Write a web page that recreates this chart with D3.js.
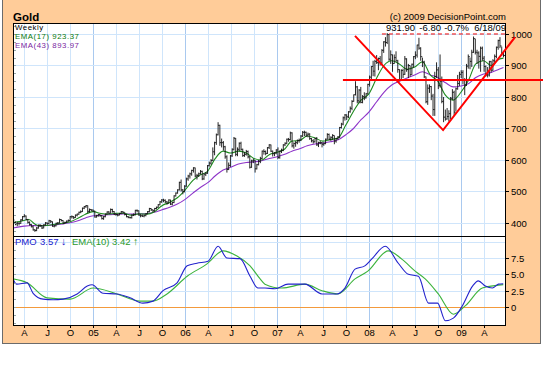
<!DOCTYPE html>
<html><head><meta charset="utf-8">
<script src="https://cdn.jsdelivr.net/npm/d3@7"></script>
<style>html,body{margin:0;padding:0;background:#fff}svg{display:block}text{font-family:"Liberation Sans",Arial,sans-serif}</style>
</head><body><svg id="c" width="543" height="384"></svg>
<script>
// ---------------- data ----------------
const firstWeek = "2004-02-20";   // weekly bars, one per Friday
const weekHigh = [
412,405,404,403,412,422,428,424,413,405,397,392,381,387,395,396,394,396,403,402,410,409,405,394,401,403,414,412,409,404,408,411,422,424,422,427,430,436,440,449,454,457,456,446,444,443,
439,426,429,428,426,422,430,437,438,446,445,438,431,429,432,438,437,434,429,422,420,427,430,442,443,440,428,427,427,431,438,448,447,443,448,452,460,470,476,477,475,470,475,474,468,488,497,507,531,538,508,520,
544,553,560,569,577,576,556,560,568,566,558,562,584,595,603,640,658,684,720,712,668,660,645,615,592,616,637,673,670,640,656,658,636,625,632,630,613,601,604,600,588,600,610,630,634,630,641,650,649,630,625,634,
640,630,636,650,656,668,670,690,688,656,660,665,668,679,692,693,690,687,685,670,666,671,673,658,660,657,656,668,685,684,675,682,678,670,676,705,718,738,746,745,755,770,790,808,850,835,825,832,806,815,813,842,
868,898,915,918,933,925,930,952,977,990,1003,1000,948,935,935,945,918,888,888,890,930,923,905,900,906,930,945,966,988,958,925,915,865,840,840,835,810,880,910,895,935,865,800,760,765,758,800,825,820,830,870,880,
885,885,860,905,935,925,950,992,985,950,945,960,960,930,900,895,915,915,920,935,960,982,990,960,945];
const weekLow = [
398,393,390,392,397,407,418,409,398,392,386,376,372,374,382,388,381,383,392,394,397,400,388,386,389,395,399,405,396,397,400,404,406,414,413,416,421,426,431,435,444,448,431,433,437,435,
417,417,420,420,411,410,418,426,428,430,433,425,423,421,424,428,429,424,418,415,414,414,422,424,434,423,418,419,418,421,428,434,438,434,436,443,448,456,464,466,463,458,461,457,456,463,484,493,503,500,491,497,
515,534,541,550,560,545,538,546,554,536,537,549,556,579,585,597,615,648,678,645,640,630,604,560,568,578,610,630,612,612,628,630,610,610,614,605,573,575,590,560,570,583,590,603,617,615,619,635,625,611,612,618,
603,604,622,628,644,650,658,662,640,636,642,650,655,660,673,676,673,672,664,656,652,655,645,641,650,640,645,650,664,662,660,664,650,655,664,670,700,710,725,727,733,750,758,785,805,780,780,780,780,790,795,808,
833,855,866,865,905,885,900,905,940,960,968,915,905,880,905,912,877,850,853,860,870,880,860,865,870,893,920,925,950,915,895,860,780,775,813,790,740,740,860,825,830,780,720,725,728,722,730,790,740,755,823,835,
860,840,806,835,890,888,895,940,935,905,890,880,915,880,865,862,865,878,883,910,923,950,955,930,926];
const weekClose = [
400,397,399,399,410,420,422,411,402,395,388,378,376,384,393,392,384,394,400,398,407,404,390,391,399,400,411,408,399,402,406,408,420,420,417,425,428,434,436,447,452,455,437,443,441,438,
419,423,427,423,414,420,428,435,431,443,436,428,427,425,430,436,434,427,420,418,417,425,426,440,439,425,423,422,424,429,436,446,442,439,446,450,458,467,473,472,467,463,473,460,465,486,495,505,529,505,500,517,
540,549,556,567,575,549,551,556,564,540,555,558,582,590,598,626,655,680,710,655,655,642,610,570,583,613,634,669,618,634,653,634,614,618,627,610,577,597,599,572,585,596,605,628,627,621,639,648,628,620,622,632,
608,628,631,648,653,666,665,686,645,652,655,662,663,676,688,688,679,682,668,661,658,668,648,655,655,650,652,666,681,666,672,678,660,668,673,703,714,734,743,737,753,764,786,807,832,788,822,783,801,797,810,840,
863,897,882,913,909,922,908,948,975,973,998,920,934,906,925,915,887,853,884,872,921,887,900,871,904,928,933,965,955,928,911,864,785,828,833,803,760,865,886,836,850,786,736,730,738,747,796,815,752,826,843,872,
878,855,838,898,928,913,942,985,942,940,929,955,923,897,870,870,912,885,915,929,958,979,962,939,931.9];

const ema17 = [["2004-02-17",401],["2004-03-01",403],["2004-04-01",408],["2004-04-20",411],["2004-05-15",396],["2004-06-01",391],["2004-07-01",392],["2004-08-01",396],["2004-09-01",399],["2004-10-01",404],["2004-11-01",415],["2004-12-01",428],["2005-01-01",436],["2005-02-01",430],["2005-03-01",428],["2005-04-01",431],["2005-05-01",431],["2005-06-01",425],["2005-07-01",429],["2005-08-01",428],["2005-09-01",436],["2005-10-01",455],["2005-11-01",466],["2005-12-01",480],["2006-01-01",505],["2006-02-01",535],["2006-03-01",552],["2006-04-01",565],["2006-05-01",605],["2006-06-01",628],["2006-07-01",622],["2006-08-01",628],["2006-09-01",622],["2006-10-01",605],["2006-11-01",600],["2006-12-01",617],["2007-01-01",625],["2007-02-01",635],["2007-03-01",660],["2007-04-01",662],["2007-05-01",676],["2007-06-01",670],["2007-07-01",660],["2007-08-01",665],["2007-09-01",670],["2007-10-01",710],["2007-11-01",755],["2007-12-01",790],["2008-01-01",810],["2008-02-01",860],["2008-03-01",900],["2008-04-01",915],["2008-05-01",905],["2008-06-01",888],["2008-07-01",895],["2008-08-01",912],["2008-09-01",870],["2008-10-01",850],["2008-11-01",805],["2008-12-01",790],["2009-01-01",815],["2009-02-01",855],["2009-03-01",905],["2009-04-01",915],["2009-05-01",900],["2009-06-01",920],["2009-06-19",923.37]];
const ema43 = [["2004-02-17",384],["2004-03-01",386],["2004-04-01",390],["2004-05-01",392],["2004-06-01",391],["2004-07-01",392],["2004-08-01",394],["2004-09-01",397],["2004-10-01",401],["2004-11-01",407],["2004-12-01",416],["2005-01-01",423],["2005-02-01",424],["2005-03-01",426],["2005-04-01",428],["2005-05-01",429],["2005-06-01",428],["2005-07-01",429],["2005-08-01",430],["2005-09-01",434],["2005-10-01",442],["2005-11-01",450],["2005-12-01",460],["2006-01-01",475],["2006-02-01",495],["2006-03-01",512],["2006-04-01",528],["2006-05-01",550],["2006-06-01",568],["2006-07-01",577],["2006-08-01",587],["2006-09-01",592],["2006-10-01",594],["2006-11-01",598],["2006-12-01",605],["2007-01-01",610],["2007-02-01",618],["2007-03-01",628],["2007-04-01",636],["2007-05-01",645],["2007-06-01",651],["2007-07-01",654],["2007-08-01",658],["2007-09-01",664],["2007-10-01",680],["2007-11-01",700],["2007-12-01",728],["2008-01-01",752],["2008-02-01",785],["2008-03-01",815],["2008-04-01",838],["2008-05-01",850],["2008-06-01",860],["2008-07-01",870],["2008-08-01",880],["2008-09-01",870],["2008-10-01",862],["2008-11-01",845],["2008-12-01",832],["2009-01-01",835],["2009-02-01",843],["2009-03-01",862],["2009-04-01",873],["2009-05-01",878],["2009-06-01",888],["2009-06-19",893.97]];
const pmo = [["2004-02-17",4.3],["2004-03-03",3.5],["2004-04-13",3.7],["2004-05-07",2.1],["2004-06-16",1.2],["2004-07-25",1.1],["2004-09-03",1.2],["2004-10-29",2.0],["2004-12-08",3.2],["2004-12-27",3.4],["2005-02-09",2.1],["2005-04-05",2.0],["2005-05-27",1.4],["2005-07-17",0.6],["2005-08-26",0.9],["2005-10-05",2.5],["2005-11-30",3.7],["2006-01-09",6.3],["2006-02-17",6.7],["2006-04-02",7.0],["2006-05-12",9.3],["2006-06-16",7.5],["2006-08-07",7.4],["2006-09-16",4.7],["2006-10-17",2.9],["2006-11-14",2.9],["2006-12-24",2.8],["2007-02-14",3.5],["2007-04-22",3.5],["2007-06-29",2.0],["2007-08-27",2.0],["2007-09-28",2.9],["2007-11-07",5.8],["2007-12-16",6.3],["2008-01-14",7.4],["2008-03-06",9.3],["2008-04-27",6.7],["2008-06-06",5.0],["2008-07-16",4.7],["2008-08-25",0.6],["2008-09-30",0.6],["2008-10-31",-2.1],["2008-12-02",-1.7],["2009-01-07",0.2],["2009-02-16",3.2],["2009-03-11",4.0],["2009-04-08",3.2],["2009-05-06",2.9],["2009-05-30",3.5],["2009-06-18",3.57]];
const pmoSignal = [["2004-02-17",4.3],["2004-04-13",3.7],["2004-07-01",1.4],["2004-10-01",1.2],["2005-01-01",2.9],["2005-04-05",2.0],["2005-07-05",0.9],["2005-08-26",0.9],["2005-10-21",2.0],["2006-01-09",4.7],["2006-03-29",6.6],["2006-06-01",8.6],["2006-07-26",7.8],["2006-09-16",6.3],["2006-10-26",4.3],["2006-11-14",3.5],["2007-01-20",2.9],["2007-04-22",3.5],["2007-06-29",2.5],["2007-08-31",2.0],["2007-11-07",4.3],["2007-12-28",5.5],["2008-03-18",8.6],["2008-05-12",7.3],["2008-07-03",5.5],["2008-08-12",4.3],["2008-10-03",2.0],["2008-12-02",-1.1],["2009-01-19",0.2],["2009-03-27",2.9],["2009-06-18",3.42]];

const priceTicks = [400,500,600,700,800,900,1000];
const pmoTicks = [0,2.5,5,7.5,10];
const pmoTickLabels = ["0","2.5","5.0","7.5",""];
const quarterLabels = ["A","J","O","05","A","J","O","06","A","J","O","07","A","J","O","08","A","J","O","09","A"];
const neckline = [["2007-09-20",854],["2009-11-30",854]];
const vPattern = [["2007-11-07",994],["2008-10-22",695],["2009-08-04",990]];
const resistance = [["2008-02-22",1000],["2009-06-29",1000]];
const lastQuote = ["931.90","-6.80","-0.7%","6/18/09"];

// ---------------- layout ----------------
const L = 13, R = 506, T1 = 23, B1 = 236, T2 = 236, B2 = 326;
const parse = d3.timeParse("%Y-%m-%d");
const svg = d3.select("#c");
const x = d3.scaleTime().domain([parse("2004-02-17"), parse("2009-06-29")]).range([L, R]);
const yP = d3.scaleLinear().domain([358.7, 1034.9]).range([B1, T1]);
const yM = d3.scaleLinear().domain([-2.91, 10.87]).range([B2, T2]);

svg.append("rect").attr("width",543).attr("height",384).attr("fill","#fff");
svg.append("rect").attr("x",2.5).attr("y",-1).attr("width",538).attr("height",344.5)
  .attr("fill","#ffcc99").attr("stroke","#6b6b6b").attr("stroke-width",1);

const defs = svg.append("defs");
defs.append("clipPath").attr("id","c1").append("rect").attr("x",L).attr("y",T1).attr("width",R-L).attr("height",B1-T1);
defs.append("clipPath").attr("id","c2").append("rect").attr("x",L).attr("y",T2).attr("width",R-L).attr("height",B2-T2);

svg.append("rect").attr("x",L).attr("y",T1).attr("width",R-L).attr("height",B2-T1).attr("fill","#fff");

const qDates = d3.timeMonths(new Date(2004,3,1), new Date(2009,4,2), 3);

// grids
const g1 = svg.append("g").attr("clip-path","url(#c1)");
const g2 = svg.append("g").attr("clip-path","url(#c2)");
[g1,g2].forEach((g,i)=>{
  const top = i? T2:T1, bot = i? B2:B1;
  g.selectAll("line.v").data(qDates).join("line")
    .attr("x1",d=>Math.round(x(d))+0.5).attr("x2",d=>Math.round(x(d))+0.5)
    .attr("y1",top).attr("y2",bot)
    .attr("stroke",d=>d.getMonth()===0?"#a9c9ef":"#cfe5fb").attr("stroke-width",1);
});
g1.selectAll("line.h").data(priceTicks).join("line")
  .attr("x1",L).attr("x2",R).attr("y1",d=>Math.round(yP(d))+0.5).attr("y2",d=>Math.round(yP(d))+0.5)
  .attr("stroke","#cfe5fb");
g2.selectAll("line.h").data(pmoTicks.filter(d=>d!==0)).join("line")
  .attr("x1",L).attr("x2",R).attr("y1",d=>Math.round(yM(d))+0.5).attr("y2",d=>Math.round(yM(d))+0.5)
  .attr("stroke","#cfe5fb");
g2.append("line").attr("x1",L).attr("x2",R).attr("y1",Math.round(yM(0))+0.5).attr("y2",Math.round(yM(0))+0.5)
  .attr("stroke","#f39a3c").attr("stroke-width",1);

// minor ticks on the left edges
const minorP = d3.range(375, 1030, 25), minorM = d3.range(-2.5, 10.8, 1.25);
svg.selectAll("line.mp").data(minorP).join("line").attr("x1",L+1).attr("x2",L+3)
  .attr("y1",d=>Math.round(yP(d))+0.5).attr("y2",d=>Math.round(yP(d))+0.5).attr("stroke","#9aa");
svg.selectAll("line.mm").data(minorM).join("line").attr("x1",L+1).attr("x2",L+3)
  .attr("y1",d=>Math.round(yM(d))+0.5).attr("y2",d=>Math.round(yM(d))+0.5).attr("stroke","#9aa");

// price bars
const start = parse(firstWeek);
const bars = weekClose.map((c,i)=>({d:d3.timeWeek.offset(start,i),h:weekHigh[i],l:weekLow[i],c}));
let p = "";
bars.forEach(b=>{
  const xx = x(b.d);
  p += `M${xx},${yP(b.h)}V${yP(b.l)}M${xx},${yP(b.c)}H${xx+1.6}`;
});
const line = d3.line().x(d=>x(parse(d[0]))).curve(d3.curveMonotoneX);
g1.append("path").attr("d",line.y(d=>yP(d[1]))(ema43)).attr("fill","none").attr("stroke","#8e35c8").attr("stroke-width",1.1);
g1.append("path").attr("d",line.y(d=>yP(d[1]))(ema17)).attr("fill","none").attr("stroke","#1e8a1e").attr("stroke-width",1.1);
g1.append("path").attr("d",p).attr("fill","none").attr("stroke","#111").attr("stroke-width",0.9);

// PMO
g2.append("path").attr("d",line.y(d=>yM(d[1]))(pmoSignal)).attr("fill","none").attr("stroke","#3cb33c").attr("stroke-width",1.1);
g2.append("path").attr("d",line.y(d=>yM(d[1]))(pmo)).attr("fill","none").attr("stroke","#2222cc").attr("stroke-width",1.1);

// panel borders
svg.append("rect").attr("x",L+0.5).attr("y",T1+0.5).attr("width",R-L-1).attr("height",B1-T1).attr("fill","none").attr("stroke","#000");
svg.append("rect").attr("x",L+0.5).attr("y",T2+0.5).attr("width",R-L-1).attr("height",B2-T2-1).attr("fill","none").attr("stroke","#000");

// right axes
const fs = "9.5px";
priceTicks.forEach(v=>{
  const yy = Math.round(yP(v))+0.5;
  svg.append("line").attr("x1",R).attr("x2",R+3).attr("y1",yy).attr("y2",yy).attr("stroke","#000");
  svg.append("text").attr("x",R+5).attr("y",yy).attr("dy","0.35em").attr("font-size",fs).text(v);
});
pmoTicks.forEach((v,i)=>{
  if(!pmoTickLabels[i]) return;
  const yy = Math.round(yM(v))+0.5;
  svg.append("line").attr("x1",R).attr("x2",R+3).attr("y1",yy).attr("y2",yy).attr("stroke","#000");
  svg.append("text").attr("x",R+5).attr("y",yy).attr("dy","0.35em").attr("font-size",fs).text(pmoTickLabels[i]);
});

// bottom axis
qDates.forEach((d,i)=>{
  const xx = Math.round(x(d))+0.5;
  svg.append("line").attr("x1",xx).attr("x2",xx).attr("y1",B2).attr("y2",B2+2).attr("stroke","#000");
  svg.append("text").attr("x",xx).attr("y",B2+10).attr("text-anchor","middle").attr("font-size",fs).text(quarterLabels[i]);
});

// titles
svg.append("text").attr("x",13).attr("y",21).attr("font-size","11.5px").attr("font-weight","bold").text("Gold");
svg.append("text").attr("x",R).attr("y",20).attr("text-anchor","end").attr("font-size",fs).text("(c) 2009 DecisionPoint.com");
const small = "7.8px", ls = "0.55px";
svg.append("text").attr("x",15).attr("y",30).attr("font-size",small).attr("letter-spacing",ls).text("Weekly");
svg.append("text").attr("x",15).attr("y",39).attr("font-size",small).attr("letter-spacing",ls).attr("fill","#0b7a0b").text("EMA(17) 923.37");
svg.append("text").attr("x",15).attr("y",48).attr("font-size",small).attr("letter-spacing",ls).attr("fill","#7a1fa0").text("EMA(43) 893.97");
const qx = [415, 441, 469, 506];
lastQuote.forEach((s,i)=>svg.append("text").attr("x",qx[i]).attr("y",31).attr("font-size",fs).attr("text-anchor","end").text(s));

// PMO legend
const legendParts = [
  {t:"PMO", x:15, c:"#2222cc"}, {t:"3.57", x:40, c:"#2222cc"}, {t:"\u2193", x:61, c:"#2222cc", b:true},
  {t:"EMA(10)", x:72, c:"#2a9a2a"}, {t:"3.42", x:112, c:"#2a9a2a"}, {t:"\u2191", x:133, c:"#2a9a2a", b:true}];
legendParts.forEach(d=>svg.append("text").attr("x",d.x).attr("y",245).attr("font-size",d.b?"10.5px":fs)
  .attr("font-weight",d.b?"bold":null).attr("fill",d.c).text(d.t));

// annotations
const pt = d => [x(parse(d[0])), yP(d[1])];
svg.append("path").attr("d",d3.line()(resistance.map(pt))).attr("fill","none").attr("stroke","#e00").attr("stroke-width",1).attr("stroke-dasharray","4,3");
svg.append("path").attr("d",d3.line()(neckline.map(pt))).attr("fill","none").attr("stroke","#f00").attr("stroke-width",2.2);
svg.append("path").attr("d",d3.line()(vPattern.map(pt))).attr("fill","none").attr("stroke","#f00").attr("stroke-width",2);
</script></body></html>
